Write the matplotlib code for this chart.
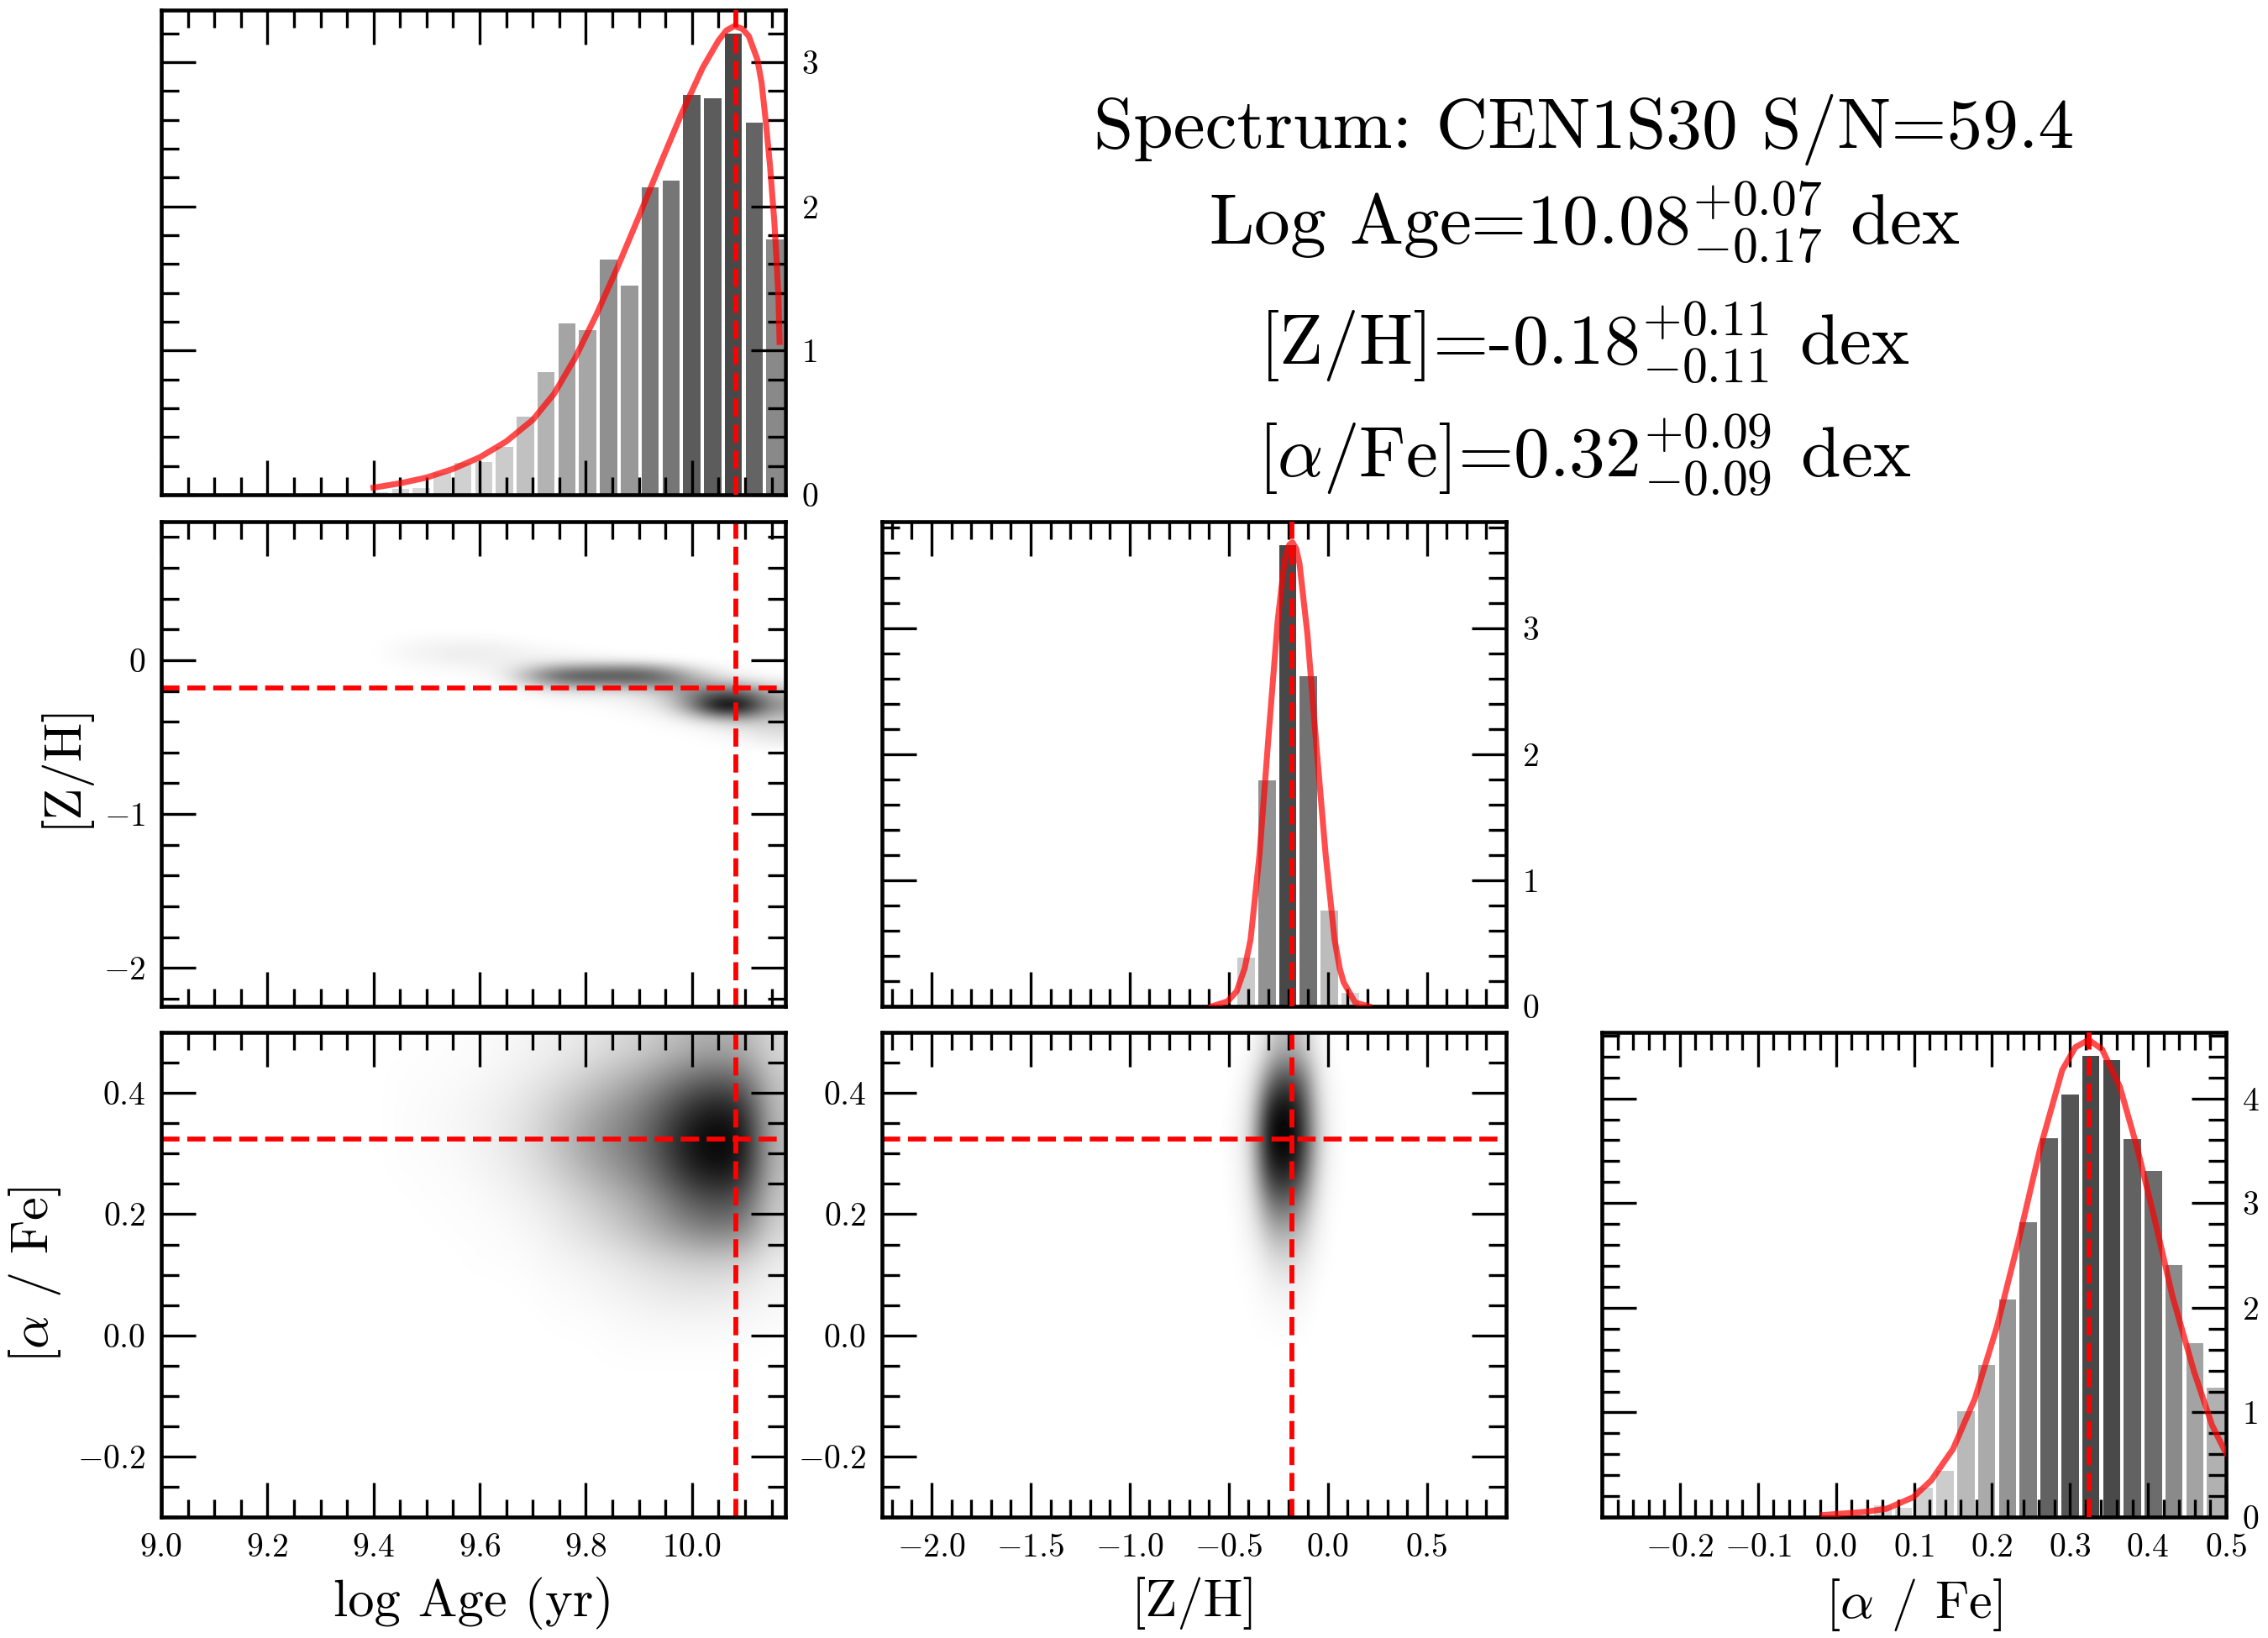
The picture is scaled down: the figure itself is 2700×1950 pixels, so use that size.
import numpy as np
import matplotlib
matplotlib.use('Agg')
import matplotlib.pyplot as plt
from matplotlib.ticker import MultipleLocator
from matplotlib.colors import LinearSegmentedColormap

plt.rcParams['font.family'] = 'serif'
plt.rcParams['font.serif'] = ['cmr10']
plt.rcParams['mathtext.fontset'] = 'cm'
plt.rcParams['axes.unicode_minus'] = False
plt.rcParams['axes.formatter.use_mathtext'] = True

# ---------------- data ----------------
age_lim = (9.0, 10.176)
zh_lim = (-2.25, 0.90)
afe_lim = (-0.30, 0.50)
n_bins = 30

best_age = 10.082
best_zh = -0.182
best_afe = 0.324

age_hist = [0, 0, 0, 0, 0, 0, 0, 0, 0, 0,
            0.02, 0.04, 0.05, 0.15, 0.22, 0.23, 0.33, 0.54, 0.85, 1.19,
            1.14, 1.63, 1.45, 2.13, 2.18, 2.77, 2.75, 3.20, 2.58, 1.77]
zh_hist = [0] * 17 + [0.39, 1.79, 3.66, 2.62, 0.76, 0.11] + [0] * 7
afe_hist = [0] * 13 + [0.11, 0.09, 0.28, 0.44, 1.01, 1.45, 2.08, 2.82, 3.62,
                       4.04, 4.41, 4.37, 3.61, 3.31, 2.41, 1.66, 1.24]

age_curve_x = [9.40, 9.45, 9.50, 9.55, 9.60, 9.65, 9.70, 9.74, 9.78, 9.82,
               9.86, 9.90, 9.94, 9.98, 10.02, 10.05, 10.065, 10.08, 10.095,
               10.107, 10.123, 10.131, 10.139, 10.147, 10.155, 10.159,
               10.163, 10.165]
age_curve_y = [0.05, 0.08, 0.12, 0.18, 0.26, 0.37, 0.52, 0.70, 0.95, 1.25,
               1.58, 1.93, 2.29, 2.64, 2.96, 3.15, 3.22, 3.25, 3.23,
               3.18, 3.02, 2.86, 2.59, 2.28, 1.90, 1.65,
               1.36, 1.06]

zh_curve_x = [-0.586, -0.506, -0.46, -0.42, -0.39, -0.345, -0.30, -0.253, -0.218,
              -0.195, -0.179, -0.16, -0.143, -0.103, -0.057, -0.011, 0.034,
              0.06, 0.08, 0.138, 0.207]
zh_curve_y = [0.0, 0.04, 0.12, 0.30, 0.53, 1.20, 2.13, 3.06, 3.54,
              3.66, 3.68, 3.63, 3.51, 2.95, 2.05, 1.20, 0.53,
              0.30, 0.19, 0.03, 0.0]

afe_curve_x = [-0.016, 0.037, 0.065, 0.099, 0.122, 0.15, 0.178, 0.206, 0.234,
               0.262, 0.29, 0.307, 0.324, 0.341, 0.364, 0.386, 0.409, 0.431,
               0.459, 0.482, 0.50]
afe_curve_y = [0.02, 0.05, 0.08, 0.19, 0.35, 0.65, 1.13, 1.81, 2.64,
               3.53, 4.27, 4.49, 4.56, 4.47, 4.11, 3.53, 2.83, 2.12,
               1.39, 0.88, 0.61]

# 2D densities (cell centres, darkness 0..1)
za_age = [9.45, 9.50, 9.55, 9.60, 9.65, 9.70, 9.75, 9.80, 9.85, 9.90,
          9.95, 10.00, 10.05, 10.10, 10.15]
za_zh = [0.15, 0.10, 0.05, 0.00, -0.05, -0.10, -0.15, -0.20, -0.25, -0.30,
         -0.35, -0.40, -0.45, -0.50, -0.55]
za_density = [
    [0.01, 0.02, 0.02, 0.02, 0.01, 0, 0, 0, 0, 0, 0, 0, 0, 0, 0],
    [0.02, 0.04, 0.05, 0.05, 0.04, 0.02, 0.01, 0, 0, 0, 0, 0, 0, 0, 0],
    [0.03, 0.05, 0.07, 0.07, 0.06, 0.04, 0.03, 0.02, 0.01, 0, 0, 0, 0, 0, 0],
    [0.02, 0.04, 0.06, 0.06, 0.06, 0.07, 0.08, 0.08, 0.07, 0.06, 0.03, 0.01, 0, 0, 0],
    [0.01, 0.02, 0.03, 0.04, 0.07, 0.20, 0.35, 0.40, 0.42, 0.42, 0.30, 0.12, 0.04, 0.01, 0],
    [0, 0.01, 0.01, 0.02, 0.06, 0.35, 0.62, 0.68, 0.68, 0.68, 0.55, 0.30, 0.12, 0.05, 0.02],
    [0, 0, 0, 0.01, 0.03, 0.22, 0.42, 0.48, 0.48, 0.50, 0.50, 0.40, 0.30, 0.22, 0.10],
    [0, 0, 0, 0, 0.01, 0.06, 0.12, 0.14, 0.15, 0.18, 0.28, 0.45, 0.60, 0.55, 0.25],
    [0, 0, 0, 0, 0, 0.01, 0.03, 0.04, 0.05, 0.08, 0.18, 0.50, 0.85, 0.80, 0.35],
    [0, 0, 0, 0, 0, 0, 0.01, 0.01, 0.02, 0.05, 0.12, 0.45, 1.00, 0.90, 0.40],
    [0, 0, 0, 0, 0, 0, 0, 0, 0.01, 0.02, 0.06, 0.25, 0.60, 0.60, 0.30],
    [0, 0, 0, 0, 0, 0, 0, 0, 0, 0.01, 0.02, 0.08, 0.20, 0.25, 0.20],
    [0, 0, 0, 0, 0, 0, 0, 0, 0, 0, 0.01, 0.02, 0.06, 0.10, 0.15],
    [0, 0, 0, 0, 0, 0, 0, 0, 0, 0, 0, 0.01, 0.02, 0.05, 0.10],
    [0, 0, 0, 0, 0, 0, 0, 0, 0, 0, 0, 0, 0.01, 0.02, 0.05],
]

aa_age = za_age
aa_afe = [0.475, 0.425, 0.375, 0.325, 0.275, 0.225, 0.175, 0.125, 0.075, 0.025, -0.025]
aa_density = [
    [0, 0.01, 0.01, 0.02, 0.03, 0.05, 0.07, 0.10, 0.14, 0.18, 0.24, 0.30, 0.33, 0.30, 0.15],
    [0.01, 0.01, 0.02, 0.03, 0.05, 0.08, 0.13, 0.19, 0.26, 0.34, 0.45, 0.56, 0.62, 0.55, 0.22],
    [0.01, 0.02, 0.03, 0.05, 0.08, 0.13, 0.21, 0.30, 0.40, 0.50, 0.65, 0.82, 0.90, 0.82, 0.26],
    [0.01, 0.02, 0.03, 0.05, 0.09, 0.15, 0.25, 0.37, 0.47, 0.56, 0.75, 0.94, 1.00, 0.93, 0.28],
    [0.01, 0.01, 0.02, 0.04, 0.07, 0.12, 0.20, 0.30, 0.40, 0.50, 0.68, 0.88, 0.95, 0.88, 0.27],
    [0, 0.01, 0.01, 0.02, 0.04, 0.07, 0.12, 0.19, 0.27, 0.36, 0.50, 0.65, 0.72, 0.65, 0.22],
    [0, 0, 0.01, 0.01, 0.02, 0.04, 0.08, 0.13, 0.19, 0.27, 0.37, 0.47, 0.52, 0.47, 0.17],
    [0, 0, 0, 0.01, 0.01, 0.02, 0.04, 0.06, 0.09, 0.13, 0.17, 0.20, 0.21, 0.18, 0.08],
    [0, 0, 0, 0, 0, 0.01, 0.02, 0.03, 0.05, 0.07, 0.09, 0.10, 0.10, 0.08, 0.04],
    [0, 0, 0, 0, 0, 0, 0.01, 0.01, 0.02, 0.03, 0.04, 0.04, 0.04, 0.03, 0.02],
    [0, 0, 0, 0, 0, 0, 0, 0, 0.01, 0.01, 0.01, 0.01, 0.01, 0.01, 0],
]

az_zh = [-0.50, -0.45, -0.40, -0.35, -0.30, -0.25, -0.20, -0.15, -0.10, -0.05,
         0.00, 0.05, 0.10, 0.15]
az_afe = aa_afe
az_density = [
    [0, 0, 0.02, 0.06, 0.15, 0.25, 0.28, 0.25, 0.15, 0.06, 0.02, 0, 0, 0],
    [0, 0.02, 0.06, 0.20, 0.45, 0.65, 0.70, 0.62, 0.40, 0.15, 0.04, 0.01, 0, 0],
    [0.01, 0.04, 0.12, 0.40, 0.80, 0.95, 0.95, 0.85, 0.55, 0.22, 0.06, 0.02, 0, 0],
    [0.02, 0.05, 0.15, 0.50, 0.90, 1.00, 1.00, 0.90, 0.60, 0.25, 0.07, 0.02, 0, 0],
    [0.01, 0.04, 0.12, 0.42, 0.78, 0.90, 0.90, 0.80, 0.50, 0.20, 0.05, 0.02, 0, 0],
    [0.01, 0.03, 0.08, 0.25, 0.50, 0.62, 0.62, 0.52, 0.30, 0.12, 0.03, 0.01, 0, 0],
    [0, 0.02, 0.05, 0.12, 0.25, 0.33, 0.33, 0.28, 0.16, 0.06, 0.02, 0, 0, 0],
    [0, 0.01, 0.02, 0.05, 0.10, 0.14, 0.15, 0.12, 0.07, 0.03, 0.01, 0, 0, 0],
    [0, 0, 0.01, 0.02, 0.04, 0.05, 0.06, 0.05, 0.03, 0.01, 0, 0, 0, 0],
    [0, 0, 0, 0.01, 0.01, 0.02, 0.02, 0.02, 0.01, 0, 0, 0, 0, 0],
    [0, 0, 0, 0, 0, 0, 0, 0, 0, 0, 0, 0, 0, 0],
]

# ticks
age_ticks = [9.0, 9.2, 9.4, 9.6, 9.8, 10.0]
age_labels = ['$9.0$', '$9.2$', '$9.4$', '$9.6$', '$9.8$', '$10.0$']
zh_xticks = [-2.0, -1.5, -1.0, -0.5, 0.0, 0.5]
zh_xlabels = ['$-2.0$', '$-1.5$', '$-1.0$', '$-0.5$', '$0.0$', '$0.5$']
zh_yticks = [0, -1, -2]
zh_ylabels = ['$0$', '$-1$', '$-2$']
afe_yticks = [0.4, 0.2, 0.0, -0.2]
afe_ylabels = ['$0.4$', '$0.2$', '$0.0$', '$-0.2$']
afe_xticks = [-0.2, -0.1, 0.0, 0.1, 0.2, 0.3, 0.4, 0.5]
afe_xlabels = ['$-0.2$', '$-0.1$', '$0.0$', '$0.1$', '$0.2$', '$0.3$', '$0.4$', '$0.5$']
age_hist_ticks = [0, 1, 2, 3]
zh_hist_ticks = [0, 1, 2, 3]
afe_hist_ticks = [0, 1, 2, 3, 4]

title_lines = [
    'Spectrum: CEN1S30 S/N=59.4',
    'Log Age=10.08${}^{+0.07}_{-0.17}$ dex',
    '[Z/H]=-0.18${}^{+0.11}_{-0.11}$ dex',
    r'[$\alpha$/Fe]=0.32${}^{+0.09}_{-0.09}$ dex',
]

# ---------------- figure ----------------
fig = plt.figure(figsize=(9, 6.5), dpi=300)
col_left = [0.0711, 0.3889, 0.7063]
row_bottom = [0.6979, 0.3856, 0.0738]
W, H = 0.2752, 0.2959

wk = LinearSegmentedColormap.from_list('wk', ['white', 'black'])
barcmap = LinearSegmentedColormap.from_list('bars', ['#dadada', '#484848'])

TICK_FS = 9.5
LABEL_FS = 15


def style(ax, xmin_step, ymin_step):
    ax.xaxis.set_minor_locator(MultipleLocator(xmin_step))
    ax.yaxis.set_minor_locator(MultipleLocator(ymin_step))
    ax.tick_params(which='both', direction='in', top=True, right=True,
                   labelsize=TICK_FS, pad=4.5, width=0.8)
    ax.tick_params(which='major', length=9.8)
    ax.tick_params(which='minor', length=5)
    for s in ax.spines.values():
        s.set_linewidth(1.1)


def hist1d(ax, lim, hist, cx, cy, best, yticks, xticks, xmin_step):
    edges = np.linspace(lim[0], lim[1], n_bins + 1)
    centers = 0.5 * (edges[:-1] + edges[1:])
    width = (edges[1] - edges[0]) * 0.83
    h = np.array(hist, dtype=float)
    colors = barcmap(h / h.max())
    ax.bar(centers, h, width=width, color=colors, linewidth=0, zorder=1)
    ax.plot(cx, cy, color='red', alpha=0.7, lw=1.7, zorder=3,
            solid_joinstyle='round')
    ax.axvline(best, color='red', ls='--', lw=1.4, zorder=4)
    ax.set_xlim(lim)
    ax.set_ylim(0, 1.05 * h.max())
    ax.set_xticks(xticks)
    ax.set_yticks(yticks, [f'${t}$' for t in yticks])
    style(ax, xmin_step, 0.2)
    ax.tick_params(labelleft=False, labelright=True, labelbottom=False)


def density(ax, xc, yc, grid, edge_right=False, edge_top=False):
    g = np.pad(np.array(grid, dtype=float), 2, mode='constant')
    if edge_top:
        g[:2, :] = g[2, :]
    if edge_right:
        g[:, -2:] = g[:, -3][:, None]
    dx = xc[1] - xc[0]
    dy = yc[0] - yc[1]
    ext = [xc[0] - 2.5 * dx, xc[-1] + 2.5 * dx,
           yc[-1] - 2.5 * dy, yc[0] + 2.5 * dy]
    ax.imshow(g, extent=ext, origin='upper', cmap=wk,
              vmin=0, vmax=1, interpolation='bicubic', aspect='auto', zorder=0)


# top-left: age histogram
ax_a = fig.add_axes([col_left[0], row_bottom[0], W, H])
hist1d(ax_a, age_lim, age_hist, age_curve_x, age_curve_y, best_age,
       age_hist_ticks, age_ticks, 0.05)

# middle-left: [Z/H] vs age
ax_za = fig.add_axes([col_left[0], row_bottom[1], W, H])
density(ax_za, za_age, za_zh, za_density, edge_right=True)
ax_za.axvline(best_age, color='red', ls='--', lw=1.4)
ax_za.axhline(best_zh, color='red', ls='--', lw=1.4)
ax_za.set_xlim(age_lim)
ax_za.set_ylim(zh_lim)
ax_za.set_xticks(age_ticks)
ax_za.set_yticks(zh_yticks, zh_ylabels)
style(ax_za, 0.05, 0.2)
ax_za.tick_params(labelbottom=False)
ax_za.set_ylabel('[Z/H]', fontsize=LABEL_FS)

# middle-centre: [Z/H] histogram
ax_z = fig.add_axes([col_left[1], row_bottom[1], W, H])
hist1d(ax_z, zh_lim, zh_hist, zh_curve_x, zh_curve_y, best_zh,
       zh_hist_ticks, zh_xticks, 0.1)

# bottom-left: [a/Fe] vs age
ax_aa = fig.add_axes([col_left[0], row_bottom[2], W, H])
density(ax_aa, aa_age, aa_afe, aa_density, edge_right=True, edge_top=True)
ax_aa.axvline(best_age, color='red', ls='--', lw=1.4)
ax_aa.axhline(best_afe, color='red', ls='--', lw=1.4)
ax_aa.set_xlim(age_lim)
ax_aa.set_ylim(afe_lim)
ax_aa.set_xticks(age_ticks, age_labels)
ax_aa.set_yticks(afe_yticks, afe_ylabels)
style(ax_aa, 0.05, 0.05)
ax_aa.set_xlabel('log Age (yr)', fontsize=LABEL_FS)
ax_aa.set_ylabel(r'[$\alpha$ / Fe]', fontsize=LABEL_FS)

# bottom-centre: [a/Fe] vs [Z/H]
ax_az = fig.add_axes([col_left[1], row_bottom[2], W, H])
density(ax_az, az_zh, az_afe, az_density, edge_top=True)
ax_az.axvline(best_zh, color='red', ls='--', lw=1.4)
ax_az.axhline(best_afe, color='red', ls='--', lw=1.4)
ax_az.set_xlim(zh_lim)
ax_az.set_ylim(afe_lim)
ax_az.set_xticks(zh_xticks, zh_xlabels)
ax_az.set_yticks(afe_yticks, afe_ylabels)
style(ax_az, 0.1, 0.05)
ax_az.set_xlabel('[Z/H]', fontsize=LABEL_FS)

# bottom-right: [a/Fe] histogram
ax_f = fig.add_axes([col_left[2], row_bottom[2], W, H])
hist1d(ax_f, afe_lim, afe_hist, afe_curve_x, afe_curve_y, best_afe,
       afe_hist_ticks, afe_xticks, 0.02)
ax_f.set_xticks(afe_xticks, afe_xlabels)
ax_f.tick_params(labelbottom=True)
ax_f.set_xlabel(r'[$\alpha$ / Fe]', fontsize=LABEL_FS)

# summary text
text_y = [0.9097, 0.8508, 0.7779, 0.7092]
for line, y in zip(title_lines, text_y):
    fig.text(0.6985, y, line, ha='center', va='baseline', fontsize=20.5)

fig.savefig('out.png', dpi=300)
